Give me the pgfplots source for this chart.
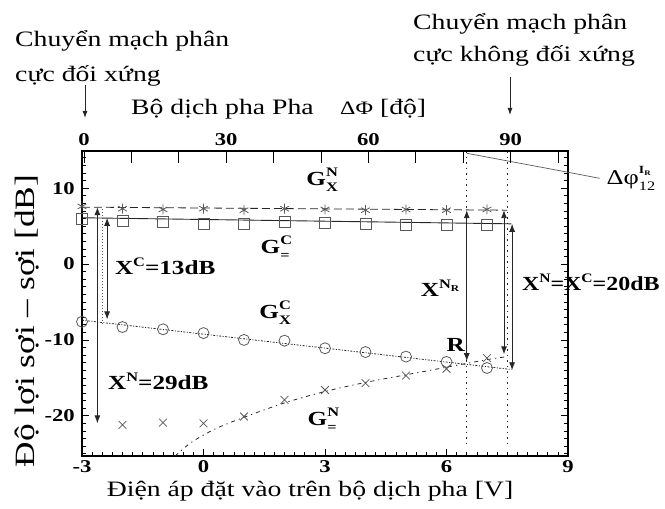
\documentclass[border=0pt]{standalone}
\usepackage{fontspec}
\setmainfont{Liberation Serif}[FakeStretch=1.26]
\usepackage{pgfplots}
\usepackage{pgfplotstable}
\pgfplotsset{compat=1.18}
\usetikzlibrary{arrows.meta}

\definecolor{ink}{gray}{0.15}
\definecolor{faint}{gray}{0.35}
\newcommand\lbl{\fontsize{22}{26}\selectfont}
\newcommand\clbl{\fontsize{20}{24}\selectfont}
\newcommand\sfs{\fontsize{13}{13}\selectfont}
% symbol with stacked superscript and subscript, set in the text font
\newcommand\SupSub[3]{#1\rlap{\raisebox{9pt}{\sfs #2}}\raisebox{-6pt}{\sfs #3}}

% G_X^N : cross-polarised gain, non-symmetric switch
\pgfplotstableread{
V   dB
-3  7.6
-2  7.3
-1  7.2
0   7.3
1   7.1
2   7.3
3   7.2
4   7.1
5   7.2
6   7.1
7   7.2
}\gxn
% G_=^C : co-polarised gain, symmetric switch
\pgfplotstableread{
V   dB
-3  6.0
-2  5.7
-1  5.5
0   5.3
1   5.3
2   5.5
3   5.4
4   5.3
5   5.2
6   5.2
7   5.2
}\gcc
% G_X^C : cross-polarised gain, symmetric switch
\pgfplotstableread{
V   dB
-3  -7.6
-2  -8.3
-1  -8.6
0   -9.1
1   -10.0
2   -10.1
3   -11.1
4   -11.6
5   -12.2
6   -12.9
7   -13.7
}\gxc
% G_=^N : co-polarised gain, non-symmetric switch
\pgfplotstableread{
V   dB
-2  -21.2
-1  -20.9
0   -21.0
1   -20.1
2   -17.9
3   -16.6
4   -15.7
5   -14.7
6   -13.8
7   -12.4
}\gcn

\begin{document}
\begin{tikzpicture}
\useasboundingbox (-82pt,-53pt) rectangle (583pt,456pt);

\begin{axis}[
  at={(0,0)}, anchor=south west, scale only axis,
  width=486pt, height=305pt,
  xmin=-3, xmax=9, ymin=-25.3, ymax=14.9,
  axis line style={line width=1.6pt},
  tick align=inside, xtick pos=bottom, ytick pos=both,
  xtick={-3,0,3,6,9}, xticklabels={-3,0,3,6,9},
  minor x tick num=11,
  ytick={-20,-10,0,10}, yticklabels={-20,-10,0,10},
  minor ytick={-25,-24,...,14},
  major tick length=7pt, minor tick length=4pt,
  tick style={line width=0.7pt, black},
  tick label style={font=\fontsize{18}{18}\selectfont\bfseries},
  xticklabel style={anchor=center, yshift=-11pt, inner sep=0pt},
  yticklabel style={anchor=east, xshift=-7pt, inner sep=0pt},
  clip mode=individual,
]
% fitted lines
\addplot[ink, line width=0.8pt, dash pattern=on 8pt off 4pt] coordinates {(-3,7.5) (7.5,7.1)};
\addplot[ink, line width=0.9pt] coordinates {(-3,6.1) (7.6,5.3)};
\addplot[ink, line width=0.8pt, dash pattern=on 2pt off 1.5pt on 1pt off 1.5pt] coordinates {(-3,-7.4) (7.6,-13.9)};
\addplot[ink, line width=0.8pt, smooth, dash pattern=on 4pt off 4pt on 1.2pt off 4pt] coordinates {
  (-0.7,-25.3) (-0.3,-23.5) (0.3,-21.7) (1,-20.2) (2,-18.3) (3,-16.8)
  (4,-15.6) (5,-14.6) (6,-13.6) (7,-12.6) (7.5,-12.2)};
% measured points
\addplot[only marks, faint, mark=asterisk, mark size=5pt, mark options={line width=0.8pt}] table {\gxn};
\addplot[only marks, faint, mark=square, mark size=5.5pt, mark options={line width=0.8pt}] table {\gcc};
\addplot[only marks, faint, mark=o, mark size=5.5pt, mark options={line width=0.8pt}] table {\gxc};
\addplot[only marks, faint, mark=x, mark size=5.5pt, mark options={line width=0.8pt}] table {\gcn};

% operating points
\draw[ink, line width=0.8pt, dash pattern=on 1.5pt off 4pt] (6.5,14.9) -- (6.5,-23.8);
\draw[ink, line width=0.8pt, dash pattern=on 1.5pt off 4pt] (7.5,14.9) -- (7.5,-23.8);
\draw[faint, line width=0.6pt, dash pattern=on 1pt off 2pt] (-2.5,7.3) -- (-2.5,-8);

% extinction ratios
\tikzset{dbl/.style={ink, line width=0.9pt, {Latex[length=8pt,width=6pt]}-{Latex[length=8pt,width=6pt]}}}
\draw[dbl] (-2.38,6.1) -- (-2.38,-7.3);
\draw[dbl] (-2.62,7.5) -- (-2.62,-21);
\draw[dbl] (6.5,7.1) -- (6.5,-12.8);
\draw[dbl] (7.42,7.1) -- (7.42,-11.9);
\draw[dbl] (7.62,5.3) -- (7.62,-14.0);

% phase difference of the reference point
\draw[faint, line width=0.7pt] (6.5,14.6) -- (9,12.1) -- (9.78,11.3);

% curve labels
\node[font=\clbl\bfseries] at (2.93,11.05) {\SupSub{G}{N}{X}};
\node[font=\clbl\bfseries] at (1.77,2.1) {\SupSub{G}{C}{=}};
\node[font=\clbl\bfseries] at (1.77,-6.45) {\SupSub{G}{C}{X}};
\node[font=\clbl\bfseries] at (2.93,-20.5) {\SupSub{G}{N}{=}};
\node[font=\clbl\bfseries, anchor=west, inner sep=0pt] at (-2.19,-0.3) {X\raisebox{8pt}{\sfs C}=13dB};
\node[font=\clbl\bfseries, anchor=west, inner sep=0pt] at (-2.36,-15.4) {X\raisebox{8pt}{\sfs N}=29dB};
\node[font=\clbl\bfseries] at (5.84,-3.2) {X\raisebox{8pt}{\sfs N\raisebox{-3pt}{\fontsize{9}{9}\selectfont R}}};
\node[font=\clbl\bfseries] at (6.23,-10.66) {R};
\node[font=\clbl\bfseries, anchor=west, inner sep=0pt] at (7.86,-2.37) {\scalebox{0.95}[1]{X\raisebox{8pt}{\sfs N}=X\raisebox{8pt}{\sfs C}=20dB}};
\node[font=\fontsize{21}{21}\selectfont, anchor=west, inner sep=0pt] at (9.95,11.3) {Δφ\rlap{\raisebox{11pt}{\fontsize{11}{11}\selectfont\bfseries I\raisebox{-2pt}{\fontsize{7}{7}\selectfont R}}}\raisebox{-6pt}{\fontsize{13}{13}\selectfont 12}};
\end{axis}

\begin{axis}[
  at={(0,0)}, anchor=south west, scale only axis,
  width=486pt, height=305pt,
  xmin=-0.42, xmax=102.08, ymin=0, ymax=1,
  axis x line*=top, axis y line=none,
  axis line style={line width=1.6pt},
  tick align=inside,
  xtick={0,10,...,100}, xticklabels={0,,,30,,,60,,,90,,},
  major tick length=12pt,
  tick style={line width=0.8pt, black},
  tick label style={font=\fontsize{18}{18}\selectfont\bfseries},
  xticklabel style={anchor=center, yshift=11pt, inner sep=0pt},
]
\end{axis}

% axis titles
\node[font=\lbl, anchor=base west, inner sep=0pt] at (49pt,341pt) {Bộ dịch pha Pha};
\node[font=\lbl, anchor=base west, inner sep=0pt] at (258pt,341pt) {{\fontsize{19}{19}\selectfont ΔΦ} [độ]};
\node[font=\lbl, anchor=base, inner sep=0pt] at (228pt,-41pt) {Điện áp đặt vào trên bộ dịch pha [V]};
\node[font=\fontsize{28}{28}\selectfont, rotate=90, inner sep=0pt] at (-55pt,135pt) {Độ lợi sợi – sợi [dB]};

% switching states
\node[font=\lbl, anchor=base west, inner sep=0pt] at (-67pt,409pt) {Chuyển mạch phân};
\node[font=\lbl, anchor=base west, inner sep=0pt] at (-67pt,374pt) {cực đối xứng};
\draw[ink, line width=0.9pt, -{Latex[length=7pt,width=5pt]}] (3pt,371pt) -- (3pt,338pt);
\node[font=\lbl, anchor=base west, inner sep=0pt] at (331pt,426pt) {Chuyển mạch phân};
\node[font=\lbl, anchor=base west, inner sep=0pt] at (331pt,394pt) {cực không đối xứng};
\draw[ink, line width=0.9pt, -{Latex[length=7pt,width=5pt]}] (428pt,379pt) -- (428pt,341pt);
\end{tikzpicture}
\end{document}
